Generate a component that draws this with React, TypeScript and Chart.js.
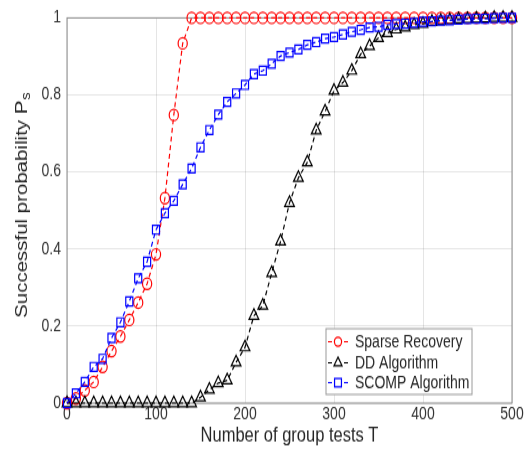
import React, { useEffect, useRef } from 'react';
import { Chart, registerables } from 'chart.js';

Chart.register(...registerables);

const T = [0, 10, 20, 30, 40, 50, 60, 70, 80, 90, 100, 110, 120, 130, 140, 150, 160, 170, 180, 190, 200,
  210, 220, 230, 240, 250, 260, 270, 280, 290, 300, 310, 320, 330, 340, 350, 360, 370, 380, 390, 400,
  410, 420, 430, 440, 450, 460, 470, 480, 490, 500];

const sparseRecovery = [0, 0.012, 0.033, 0.055, 0.094, 0.135, 0.173, 0.216, 0.261, 0.31, 0.386, 0.532, 0.748, 0.934, 1, 1, 1, 1, 1, 1, 1,
  1, 1, 1, 1, 1, 1, 1, 1, 1, 1, 1, 1, 1, 1, 1, 1, 1, 1, 1, 1,
  1, 1, 1, 1, 1, 1, 1, 1, 1, 1];

const ddAlgorithm = [0, 0, 0, 0, 0, 0, 0, 0, 0, 0, 0, 0, 0, 0, 0, 0.015, 0.035, 0.052, 0.059, 0.106, 0.145,
  0.227, 0.253, 0.338, 0.42, 0.52, 0.585, 0.625, 0.708, 0.757, 0.811, 0.832, 0.863, 0.906, 0.927, 0.948, 0.961, 0.97, 0.975, 0.982, 0.985,
  0.99, 0.992, 0.994, 0.996, 0.997, 0.998, 0.999, 1, 1, 1];

const scompAlgorithm = [0, 0.025, 0.055, 0.094, 0.115, 0.169, 0.21, 0.264, 0.324, 0.367, 0.45, 0.493, 0.525, 0.568, 0.609, 0.664, 0.709, 0.749, 0.782, 0.804, 0.826,
  0.854, 0.863, 0.881, 0.901, 0.91, 0.918, 0.93, 0.937, 0.946, 0.95, 0.957, 0.964, 0.969, 0.975, 0.977, 0.982, 0.984, 0.985, 0.987, 0.99,
  0.991, 0.993, 0.994, 0.995, 0.997, 0.998, 0.998, 0.999, 1, 1];

const seriesNames = ['Sparse Recovery', 'DD Algorithm', 'SCOMP Algorithm'];
const xTitle = 'Number of group tests T';
const yTitleMain = 'Successful probability P';
const yTitleSub = 's';

const FONT = '"Liberation Sans", Arial, Helvetica, sans-serif';
const TEXT = '#262626';

function drawMarker(ctx: CanvasRenderingContext2D, style: string, x: number, y: number, r: number) {
  ctx.beginPath();
  if (style === 'circle') {
    ctx.arc(x, y, r, 0, Math.PI * 2);
  } else if (style === 'triangle') {
    ctx.moveTo(x, y - r);
    ctx.lineTo(x + r * 0.866, y + r * 0.5);
    ctx.lineTo(x - r * 0.866, y + r * 0.5);
    ctx.closePath();
  } else {
    const s = r * 0.75;
    ctx.rect(x - s, y - s, 2 * s, 2 * s);
  }
  ctx.stroke();
}

const boxPlugin = {
  id: 'boxPlugin',
  beforeDatasetsDraw(chart: any) {
    const { ctx, chartArea } = chart;
    const { left, top, right, bottom } = chartArea;
    ctx.save();
    ctx.strokeStyle = '#8c8c8c';
    ctx.lineWidth = 1;
    ctx.strokeRect(left, top, right - left, bottom - top);
    ctx.restore();
  },
  afterDraw(chart: any) {
    const { ctx, chartArea } = chart;
    // y title with subscript
    ctx.save();
    const cy = (chartArea.top + chartArea.bottom) / 2 - 4;
    ctx.translate(22, cy);
    ctx.rotate(-Math.PI / 2);
    ctx.fillStyle = TEXT;
    ctx.textBaseline = 'middle';
    ctx.textAlign = 'left';
    const mainFont = '16.5px ' + FONT;
    const subFont = '12px ' + FONT;
    ctx.font = mainFont;
    const wMain = ctx.measureText(yTitleMain).width;
    ctx.font = subFont;
    const wSub = ctx.measureText(yTitleSub).width;
    const x0 = -(wMain + wSub) / 2;
    ctx.font = mainFont;
    ctx.fillText(yTitleMain, x0, 0);
    ctx.font = subFont;
    ctx.fillText(yTitleSub, x0 + wMain + 0.5, 5);
    ctx.restore();

    // legend
    const R = chartArea.right - 40;
    const L = chartArea.right - 186;
    const B = chartArea.bottom - 7;
    const Tp = B - 53;
    ctx.save();
    ctx.fillStyle = '#ffffff';
    ctx.fillRect(L, Tp, R - L, B - Tp);
    ctx.strokeStyle = '#9a9a9a';
    ctx.lineWidth = 1;
    ctx.strokeRect(L, Tp, R - L, B - Tp);
    const rows = [Tp + 10.5, Tp + 27.5, Tp + 43.5];
    const colors = ['#ff0000', '#000000', '#0000ff'];
    const styles = ['circle', 'triangle', 'rect'];
    const sizes = [3.6, 4.6, 4.6];
    for (let i = 0; i < 3; i++) {
      const y = rows[i];
      ctx.strokeStyle = colors[i];
      ctx.lineWidth = 1.2;
      ctx.beginPath();
      ctx.moveTo(L + 2, y);
      ctx.lineTo(L + 6, y);
      ctx.moveTo(L + 18, y);
      ctx.lineTo(L + 22, y);
      ctx.stroke();
      drawMarker(ctx, styles[i], L + 12, y, sizes[i]);
      ctx.fillStyle = TEXT;
      ctx.font = '14px ' + FONT;
      ctx.textBaseline = 'middle';
      ctx.textAlign = 'left';
      ctx.fillText(seriesNames[i], L + 29, y + 0.5);
    }
    ctx.restore();
  },
};

export default function App() {
  const ref = useRef<HTMLCanvasElement | null>(null);

  useEffect(() => {
    if (!ref.current) return;
    const mk = (vals: number[]) => T.map((t, i) => ({ x: t, y: vals[i] }));
    const chart = new Chart(ref.current, {
      type: 'line',
      data: {
        datasets: [
          {
            label: seriesNames[0],
            data: mk(sparseRecovery),
            borderColor: '#ff0000',
            backgroundColor: 'rgba(0,0,0,0)',
            borderWidth: 1.2,
            borderDash: [4, 3],
            pointStyle: 'circle',
            pointRadius: 4.6,
            pointBorderWidth: 1.2,
            pointBorderColor: '#ff0000',
            pointBackgroundColor: 'rgba(0,0,0,0)',
            tension: 0,
            clip: false,
            order: 2,
          },
          {
            label: seriesNames[1],
            data: mk(ddAlgorithm),
            borderColor: '#000000',
            backgroundColor: 'rgba(0,0,0,0)',
            borderWidth: 1.2,
            borderDash: [4, 3],
            pointStyle: 'triangle',
            pointRadius: 5.6,
            pointBorderWidth: 1.2,
            pointBorderColor: '#000000',
            pointBackgroundColor: 'rgba(0,0,0,0)',
            tension: 0,
            clip: false,
            order: 1,
          },
          {
            label: seriesNames[2],
            data: mk(scompAlgorithm),
            borderColor: '#0000ff',
            backgroundColor: 'rgba(0,0,0,0)',
            borderWidth: 1.2,
            borderDash: [4, 3],
            pointStyle: 'rect',
            pointRadius: 5,
            pointBorderWidth: 1.2,
            pointBorderColor: '#0000ff',
            pointBackgroundColor: 'rgba(0,0,0,0)',
            tension: 0,
            clip: false,
            order: 0,
          },
        ],
      },
      options: {
        responsive: false,
        animation: false,
        devicePixelRatio: 1,
        layout: { padding: { left: 0, right: 19, top: 11, bottom: 0 } },
        plugins: {
          legend: { display: false },
          tooltip: { enabled: false },
        },
        scales: {
          x: {
            type: 'linear',
            min: 0,
            max: 500,
            ticks: {
              stepSize: 100,
              padding: 1,
              color: '#333333',
              font: { family: FONT, size: 14 },
              maxRotation: 0,
            },
            grid: { color: 'rgba(0,0,0,0.1)', drawTicks: false, lineWidth: 1 },
            border: { display: false },
            title: {
              display: true,
              text: xTitle,
              color: TEXT,
              font: { family: FONT, size: 16.5 },
              padding: { top: 0, bottom: 1 },
            },
            afterFit: (s: any) => { s.height = 37; },
          },
          y: {
            type: 'linear',
            min: 0,
            max: 1,
            ticks: {
              stepSize: 0.2,
              padding: 6,
              color: '#333333',
              font: { family: FONT, size: 14 },
              callback: (v: any) => String(Math.round(Number(v) * 10) / 10),
            },
            grid: { color: 'rgba(0,0,0,0.1)', drawTicks: false, lineWidth: 1 },
            border: { display: false },
            afterFit: (s: any) => { s.width = 67; },
          },
        },
      },
      plugins: [boxPlugin],
    } as any);
    return () => chart.destroy();
  }, []);

  return (
    <div style={{ position: 'absolute', left: 0, top: 0, width: 531, height: 449, background: '#ffffff' }}>
      <canvas
        ref={ref}
        width={531}
        height={362}
        style={{ display: 'block', width: '531px', height: '449px' }}
      />
    </div>
  );
}
